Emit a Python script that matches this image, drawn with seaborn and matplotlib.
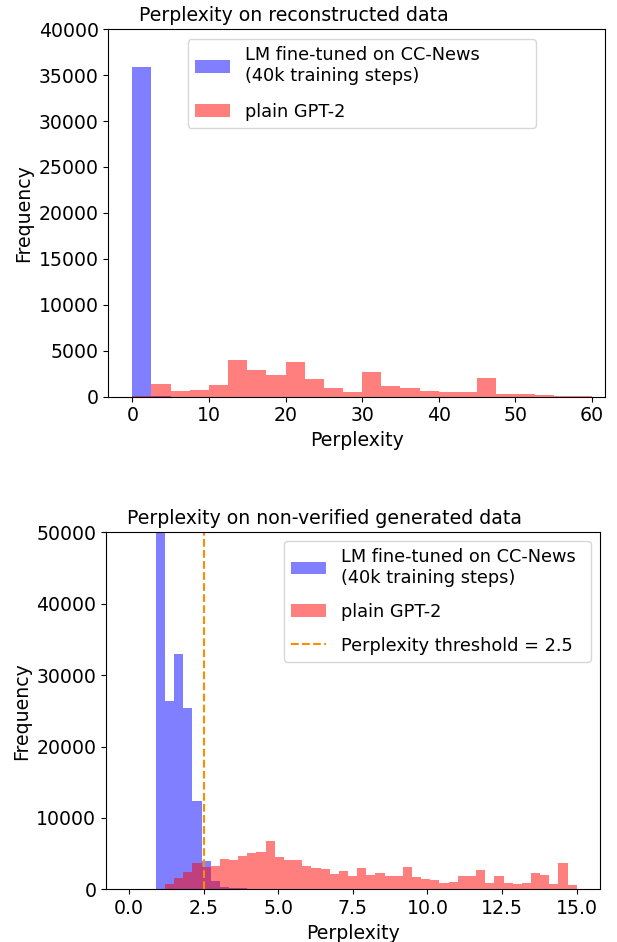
import numpy as np
import pandas as pd
import matplotlib
matplotlib.use("Agg")
import matplotlib.pyplot as plt
import seaborn as sns

# ---------------- data: top panel (reconstructed data) ----------------
top_edges = list(np.linspace(0, 60, 25))          # 24 bins of width 2.5
top_finetuned = [35900, 100, 0, 0, 0, 0, 0, 0, 0, 0, 0, 0,
                 0, 0, 0, 0, 0, 0, 0, 0, 0, 0, 0, 0]
top_gpt2 = [100, 1400, 600, 750, 1250, 4000, 2850, 2350, 3800, 1900, 950, 450,
            2700, 1100, 900, 650, 480, 530, 2050, 300, 250, 110, 40, 30]

# ---------------- data: bottom panel (non-verified generated data) ----------------
bot_edges = list(np.linspace(0.9, 15.0, 47))      # 46 bins
bot_finetuned = [58000, 26400, 33000, 25400, 12300, 4000, 1200, 370, 140, 190] + [0] * 36
bot_gpt2 = [0, 700, 1540, 2400, 3640, 3100, 3260, 4290, 4060, 4660, 5080, 5220,
            6760, 4520, 4150, 4150, 3260, 2980, 2890, 2140, 2520, 1860, 3030, 1960,
            2280, 1910, 1860, 3120, 1720, 1490, 1350, 890, 980, 1910, 1910, 2700,
            930, 1820, 840, 700, 840, 2240, 1960, 700, 3680, 610]
threshold = 2.5

label_ft = "LM fine-tuned on CC-News\n(40k training steps)"
label_gpt2 = "plain GPT-2"
label_thr = "Perplexity threshold = 2.5"

FS = 13.6
LFS = 12.8
plt.rcParams.update({
    "font.family": ["DejaVu Sans"],
    "font.size": FS,
    "axes.titlesize": FS,
    "axes.labelsize": FS,
    "xtick.labelsize": FS,
    "ytick.labelsize": FS,
    "legend.fontsize": LFS,
})

W, H = 617, 942
fig = plt.figure(figsize=(W / 100, H / 100), dpi=100)


def rect(l, r, t, b):
    return [l / W, (H - b) / H, (r - l) / W, (b - t) / H]


def frame(edges, counts):
    e = np.asarray(edges, dtype=float)
    return pd.DataFrame({"x": (e[:-1] + e[1:]) / 2, "w": np.asarray(counts, dtype=float)})


# ---------------- top panel ----------------
ax1 = fig.add_axes(rect(108.3, 605, 29.3, 396.5))
sns.histplot(data=frame(top_edges, top_finetuned), x="x", weights="w", bins=top_edges, ax=ax1,
             color="blue", alpha=0.5, linewidth=0, edgecolor="none", label=label_ft)
sns.histplot(data=frame(top_edges, top_gpt2), x="x", weights="w", bins=top_edges, ax=ax1,
             color="red", alpha=0.5, linewidth=0, edgecolor="none", label=label_gpt2)
ax1.set_xlim(-3.13, 61.7)
ax1.set_ylim(0, 40000)
ax1.set_xticks([0, 10, 20, 30, 40, 50, 60])
ax1.set_yticks(np.arange(0, 40001, 5000))
ax1.set_xlabel("Perplexity")
ax1.set_ylabel("Frequency")
ax1.set_title("Perplexity on reconstructed data", x=0.374)
h, l = ax1.get_legend_handles_labels()
order = [l.index(label_ft), l.index(label_gpt2)]
ax1.legend([h[i] for i in order], [l[i] for i in order], loc="upper left",
           bbox_to_anchor=(0.160, 0.9736, 0.701, 0), mode="expand",
           borderaxespad=0, labelspacing=1.0)

# ---------------- bottom panel ----------------
ax2 = fig.add_axes(rect(106, 600, 532.3, 889.3))
sns.histplot(data=frame(bot_edges, bot_finetuned), x="x", weights="w", bins=bot_edges, ax=ax2,
             color="blue", alpha=0.5, linewidth=0, edgecolor="none", label=label_ft)
sns.histplot(data=frame(bot_edges, bot_gpt2), x="x", weights="w", bins=bot_edges, ax=ax2,
             color="red", alpha=0.5, linewidth=0, edgecolor="none", label=label_gpt2)
ax2.axvline(threshold, color="darkorange", linestyle="--", linewidth=1.5, label=label_thr)
ax2.set_xlim(-0.77, 15.78)
ax2.set_ylim(0, 50000)
ax2.set_xticks([0.0, 2.5, 5.0, 7.5, 10.0, 12.5, 15.0])
ax2.set_xticklabels(["0.0", "2.5", "5.0", "7.5", "10.0", "12.5", "15.0"])
ax2.set_yticks(np.arange(0, 50001, 10000))
ax2.set_xlabel("Perplexity")
ax2.set_ylabel("Frequency")
ax2.set_title("Perplexity on non-verified generated data", x=0.443)
h, l = ax2.get_legend_handles_labels()
order = [l.index(label_ft), l.index(label_gpt2), l.index(label_thr)]
ax2.legend([h[i] for i in order], [l[i] for i in order], loc="upper left",
           bbox_to_anchor=(0.3597, 0.9765, 0.622, 0), mode="expand",
           borderaxespad=0, labelspacing=0.9)

fig.savefig("out.png", dpi=100)
